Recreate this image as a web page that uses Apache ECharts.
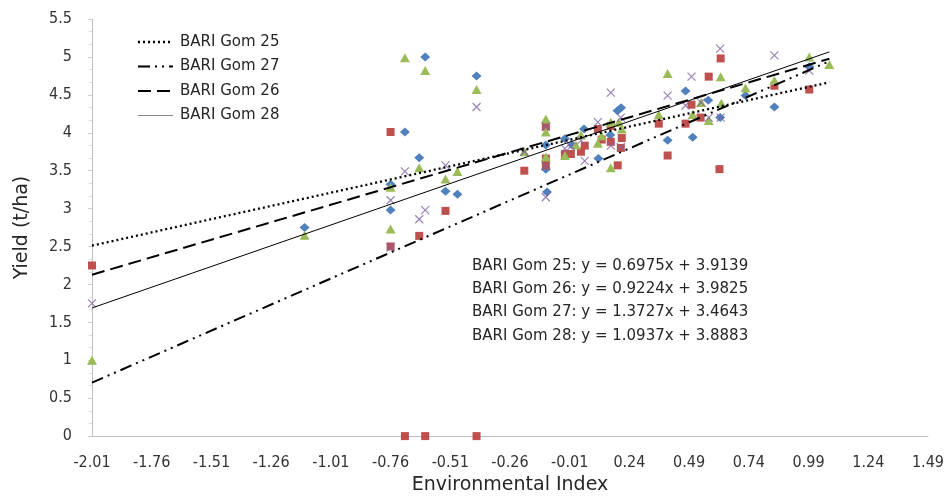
<!DOCTYPE html>
<html>
<head>
<meta charset="utf-8">
<script src="https://cdn.jsdelivr.net/npm/echarts@6/dist/echarts.min.js"></script>
<style>
html,body{margin:0;padding:0;background:#fff;}
#chart{width:947px;height:500px;}
</style>
</head>
<body>
<div id="chart"></div>
<script>
// ---- data ----
var seriesNames = ['BARI Gom 25', 'BARI Gom 26', 'BARI Gom 27', 'BARI Gom 28'];
var legendOrder = ['BARI Gom 25', 'BARI Gom 27', 'BARI Gom 26', 'BARI Gom 28'];
var xTicks = [-2.01, -1.76, -1.51, -1.26, -1.01, -0.76, -0.51, -0.26, -0.01, 0.24, 0.49, 0.74, 0.99, 1.24, 1.49];
var yTicksMax = 5.5;

// [environmental index, yield]
var gom25 = [[-1.12,2.75],[-0.76,3.32],[-0.76,2.98],[-0.70,4.01],[-0.615,5.0],[-0.64,3.67],[-0.53,3.23],[-0.48,3.19],[-0.40,4.75],[-0.11,3.84],[-0.11,3.52],[-0.105,3.22],[-0.03,3.92],[0.00,3.84],[0.05,4.05],[0.11,3.66],[0.16,3.97],[0.19,4.29],[0.205,4.33],[0.40,3.90],[0.475,4.55],[0.505,3.94],[0.57,4.43],[0.62,4.20],[0.726,4.49],[0.847,4.34],[0.993,4.87]];
var gom26 = [[-2.01,2.25],[-0.76,4.01],[-0.76,2.50],[-0.70,0],[-0.615,0],[-0.64,2.64],[-0.53,2.97],[-0.40,0],[-0.20,3.50],[-0.11,4.08],[-0.11,3.66],[-0.11,3.57],[-0.03,3.72],[-0.005,3.72],[0.037,3.75],[0.053,3.83],[0.108,4.05],[0.124,3.91],[0.162,4.09],[0.162,3.88],[0.191,3.57],[0.208,3.93],[0.204,3.80],[0.363,4.12],[0.40,3.70],[0.475,4.12],[0.50,4.37],[0.538,4.20],[0.572,4.74],[0.622,4.98],[0.617,3.52],[0.847,4.62],[0.993,4.57]];
var gom27 = [[-2.01,1.0],[-1.12,2.65],[-0.76,3.28],[-0.76,2.73],[-0.70,4.99],[-0.615,4.82],[-0.64,3.54],[-0.53,3.39],[-0.48,3.49],[-0.40,4.57],[-0.20,3.75],[-0.11,4.18],[-0.11,4.01],[-0.11,3.68],[-0.03,3.70],[0.016,3.84],[0.037,3.97],[0.108,3.86],[0.124,3.96],[0.162,4.14],[0.162,3.54],[0.196,4.14],[0.208,4.05],[0.363,4.24],[0.40,4.78],[0.505,4.24],[0.54,4.40],[0.572,4.16],[0.622,4.74],[0.625,4.39],[0.726,4.59],[0.847,4.69],[0.993,5.0],[1.077,4.90]];
var gom28 = [[-2.01,1.75],[-0.76,3.11],[-0.76,2.49],[-0.70,3.49],[-0.615,2.98],[-0.64,2.86],[-0.53,3.57],[-0.40,4.34],[-0.20,3.75],[-0.11,4.08],[-0.11,3.56],[-0.11,3.15],[-0.03,3.79],[-0.005,3.82],[0.037,3.90],[0.053,3.63],[0.108,4.14],[0.162,4.53],[0.162,3.83],[0.204,4.20],[0.204,3.81],[0.40,4.49],[0.475,4.36],[0.50,4.74],[0.54,4.40],[0.572,4.20],[0.62,5.11],[0.622,4.20],[0.847,5.02],[0.993,4.82]];

// trend line coefficients printed on the chart: y = slope * x + intercept
var slopes = [0.6975, 0.9224, 1.3727, 1.0937];
var intercepts = [3.9139, 3.9825, 3.4643, 3.8883];

// ---- build ----
var allData = [gom25, gom26, gom27, gom28];
var xs = [];
allData.forEach(function(d){ d.forEach(function(p){ xs.push(p[0]); }); });
var xMinData = Math.min.apply(null, xs);
var xMaxData = Math.max.apply(null, xs);

var markerColors = ['#4F81BD', '#C0504D', '#9BBB59', '#8064A2'];
var markerSymbols = ['diamond', 'rect', 'triangle', 'path://M0,0L10,10M10,0L0,10'];
var markerSizes = [[10,9], [8,8], [10,9], [8,8]];
var lineDash = [[2,3], [13,6], [12,5,2,5,2,5], 'solid'];
var lineWidths = [2.3, 2, 2, 1];

var series = [];
allData.forEach(function(d, i){
  var isX = i === 3;
  series.push({
    name: seriesNames[i] + ' data',
    type: 'scatter',
    data: d,
    symbol: markerSymbols[i],
    symbolSize: markerSizes[i],
    z: 2,
    itemStyle: isX ? {color: 'rgba(0,0,0,0)', borderColor: markerColors[i], borderWidth: 1.2}
                   : {color: markerColors[i], opacity: 1},
    emphasis: {disabled: true}
  });
});
allData.forEach(function(d, i){
  series.push({
    name: seriesNames[i],
    type: 'line',
    symbol: 'none',
    z: 5,
    data: [[xMinData, slopes[i]*xMinData + intercepts[i]], [xMaxData, slopes[i]*xMaxData + intercepts[i]]],
    lineStyle: {color: '#000', width: lineWidths[i], type: lineDash[i]},
    emphasis: {disabled: true}
  });
});

var graphics = [];
// equation labels
seriesNames.forEach(function(n, i){
  graphics.push({
    type: 'text', left: 472, top: 259 + i*23 + (i===3 ? 1 : 0),
    style: {text: n + ': y = ' + slopes[i].toFixed(4) + 'x + ' + intercepts[i].toFixed(4),
            fill: '#262626', font: '15px "DejaVu Sans"'}
  });
});
// legend (trend lines only)
legendOrder.forEach(function(n, k){
  var i = seriesNames.indexOf(n);
  var y = 42 + k*24.5;
  var dash = lineDash[i] === 'solid' ? null : lineDash[i];
  graphics.push({
    type: 'line', shape: {x1: 138, y1: y, x2: 173, y2: y},
    style: {stroke: i === 3 ? '#888' : '#000', lineWidth: lineWidths[i], lineDash: dash}
  });
  graphics.push({
    type: 'text', x: 180, y: y,
    style: {text: n, fill: '#262626', font: '15px "DejaVu Sans"', textVerticalAlign: 'middle', verticalAlign: 'middle'}
  });
});

var chart = echarts.init(document.getElementById('chart'), null, {renderer: 'canvas'});
chart.setOption({
  animation: false,
  backgroundColor: '#fff',
  grid: {left: 92, right: 19, top: 19, bottom: 60, containLabel: false},
  xAxis: {
    type: 'value',
    min: xTicks[0], max: xTicks[xTicks.length-1],
    name: 'Environmental Index',
    nameLocation: 'middle', nameGap: 38,
    nameTextStyle: {fontFamily: 'DejaVu Sans', fontSize: 19, color: '#262626'},
    axisLine: {show: true, onZero: false, lineStyle: {color: '#BFBFBF', width: 1}},
    axisTick: {show: false},
    splitLine: {show: false},
    axisLabel: {
      customValues: xTicks,
      formatter: function(v){ return v.toFixed(2); },
      fontFamily: '"Liberation Sans Narrow", "DejaVu Sans Condensed", sans-serif',
      fontSize: 16, color: '#333', margin: 19,
      showMinLabel: true, showMaxLabel: true
    }
  },
  yAxis: {
    type: 'value',
    min: 0, max: yTicksMax, interval: 0.5,
    name: 'Yield (t/ha)',
    nameLocation: 'middle', nameGap: 60,
    nameTextStyle: {fontFamily: 'DejaVu Sans', fontSize: 19, color: '#262626'},
    axisLine: {show: true, onZero: false, lineStyle: {color: '#BFBFBF', width: 1}},
    axisTick: {show: true, length: 4, lineStyle: {color: '#D0D0D0'}},
    minorTick: {show: true, splitNumber: 3, length: 3, lineStyle: {color: '#DDDDDD'}},
    splitLine: {show: false},
    axisLabel: {
      fontFamily: '"Liberation Sans Narrow", "DejaVu Sans Condensed", sans-serif',
      fontSize: 16, color: '#333', margin: 20
    }
  },
  graphic: graphics,
  series: series
});
</script>
</body>
</html>
